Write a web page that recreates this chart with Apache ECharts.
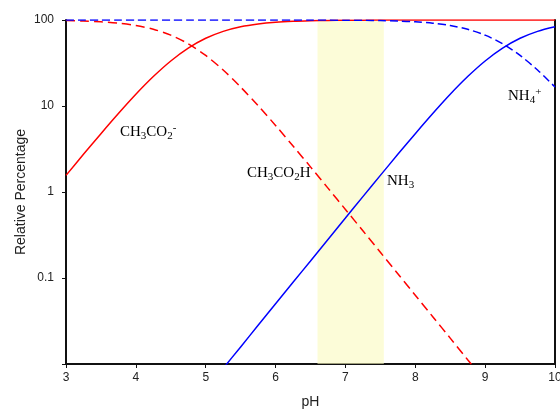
<!DOCTYPE html>
<html>
<head>
<meta charset="utf-8">
<script src="https://cdn.jsdelivr.net/npm/echarts@6/dist/echarts.min.js"></script>
<style>
  html, body { margin: 0; padding: 0; background: #fff; overflow: hidden; }
  #chart { width: 560px; height: 415px; }
</style>
</head>
<body>
<div id="chart"></div>
<script>
// pH grid (x)
const ph = [3, 3.25, 3.5, 3.75, 4, 4.25, 4.5, 4.75, 5, 5.25, 5.5, 5.75, 6, 6.25, 6.5, 6.75,
  7, 7.25, 7.5, 7.75, 8, 8.25, 8.5, 8.75, 9, 9.25, 9.5, 9.75, 10]

// percent
const acetate = [1.56, 2.74, 4.77, 8.18, 13.7, 22.0, 33.4, 47.1, 61.3, 73.8, 83.4, 89.9, 94.1, 96.6, 98.0, 98.9,
  99.4, 99.6, 99.8, 99.9, 99.9, 100, 100, 100, 100, 100, 100, 100, 100]
const aceticAcid = [98.4, 97.3, 95.2, 91.8, 86.3, 78.0, 66.6, 52.9, 38.7, 26.2, 16.6, 10.1, 5.94, 3.43, 1.96, 1.11,
  0.627, 0.354, 0.199, 0.112, 0.0631, 0.0355, 0.0200, 0.0112, 0.0063, null, null, null, null]
const ammonia = [null, null, null, null, null, null, null, null, 0.0050, 0.0089, 0.0158, 0.0282, 0.0501, 0.0891, 0.158, 0.281,
  0.498, 0.883, 1.56, 2.74, 4.77, 8.18, 13.7, 22.0, 33.4, 47.1, 61.3, 73.8, 83.4]
const ammonium = [100, 100, 100, 100, 100, 100, 100, 100, 100, 100, 99.98, 99.97, 99.95, 99.91, 99.84, 99.72,
  99.5, 99.1, 98.4, 97.3, 95.2, 91.8, 86.3, 78.0, 66.6, 52.9, 38.7, 26.2, 16.6]

// shaded pH band
const band = [6.6, 7.55]

const yTicks = ['100', '10', '1', '0.1']

function pairs (ys) {
  return ph.map((x, i) => [x, ys[i]]).filter(p => p[1] != null)
}

const chart = echarts.init(document.getElementById('chart'), null, { width: 560, height: 415 })

const sub = { fontSize: 11, fontFamily: 'Liberation Serif', padding: [8, 0, 0, 0], color: '#111' }
const sup = { fontSize: 11, fontFamily: 'Liberation Serif', padding: [0, 0, 8, 0], color: '#111' }
const main = { fontSize: 15, fontFamily: 'Liberation Serif', color: '#111' }
const rich = { m: main, s: sub, p: sup }

function label (left, top, text) {
  return {
    type: 'text',
    left: left,
    top: top,
    style: { text: text, rich: rich, font: '15px "Liberation Serif"' }
  }
}

chart.setOption({
  animation: false,
  grid: { left: 66, right: 5, top: 20, bottom: 51, outerBoundsMode: 'none' },
  xAxis: {
    type: 'value',
    min: 3,
    max: 10,
    interval: 1,
    name: 'pH',
    nameLocation: 'middle',
    nameGap: 31,
    nameTextStyle: { fontFamily: 'Liberation Sans', fontSize: 14, color: '#222' },
    axisLine: { lineStyle: { color: '#111', width: 2 } },
    axisTick: { length: 4, lineStyle: { color: '#111' } },
    axisLabel: { fontFamily: 'Liberation Sans', fontSize: 12, color: '#222', margin: 8 },
    splitLine: { show: false }
  },
  yAxis: [
    {
      type: 'log',
      logBase: 10,
      min: 0.01,
      max: 100,
      name: 'Relative Percentage',
      nameLocation: 'middle',
      nameGap: 38,
      nameMoveOverlap: false,
      nameTextStyle: { fontFamily: 'Liberation Sans', fontSize: 14, color: '#222' },
      axisLine: { show: true, lineStyle: { color: '#111', width: 2 } },
      axisTick: { length: 4, lineStyle: { color: '#111' } },
      axisLabel: {
        fontFamily: 'Liberation Sans',
        fontSize: 12,
        color: '#222',
        margin: 12,
        formatter: v => {
          const s = String(+v.toPrecision(3))
          return yTicks.indexOf(s) >= 0 ? s : ''
        }
      },
      splitLine: { show: false }
    },
    {
      type: 'log',
      min: 0.01,
      max: 100,
      position: 'right',
      axisLine: { show: true, lineStyle: { color: '#111', width: 2 } },
      axisTick: { show: false },
      axisLabel: { show: false },
      splitLine: { show: false }
    }
  ],
  series: [
    {
      name: 'CH3CO2-',
      type: 'line',
      data: pairs(acetate),
      smooth: 0.3,
      symbol: 'none',
      z: 3,
      lineStyle: { color: '#ff0000', width: 1.5 }
    },
    {
      name: 'CH3CO2H',
      type: 'line',
      data: pairs(aceticAcid),
      smooth: 0.3,
      symbol: 'none',
      z: 3,
      lineStyle: { color: '#ff0000', width: 1.5, type: [9, 5] }
    },
    {
      name: 'NH4+',
      type: 'line',
      data: pairs(ammonium),
      smooth: 0.3,
      symbol: 'none',
      z: 3,
      lineStyle: { color: '#0000ff', width: 1.5, type: [8, 4] }
    },
    {
      name: 'NH3',
      type: 'line',
      data: pairs(ammonia),
      smooth: 0.3,
      symbol: 'none',
      z: 3,
      lineStyle: { color: '#0000ff', width: 1.5 }
    },
    {
      name: 'band',
      type: 'line',
      data: [],
      z: 5,
      markArea: {
        silent: true,
        itemStyle: { color: 'rgba(250, 250, 190, 0.6)' },
        data: [[{ xAxis: band[0] }, { xAxis: band[1] }]]
      }
    }
  ],
  graphic: [
    label(120, 123, '{m|CH}{s|3}{m|CO}{s|2}{p|-}'),
    label(247, 166, '{m|CH}{s|3}{m|CO}{s|2}{m|H}'),
    label(387, 174, '{m|NH}{s|3}'),
    label(508, 87, '{m|NH}{s|4}{p|+}')
  ]
})
</script>
</body>
</html>
